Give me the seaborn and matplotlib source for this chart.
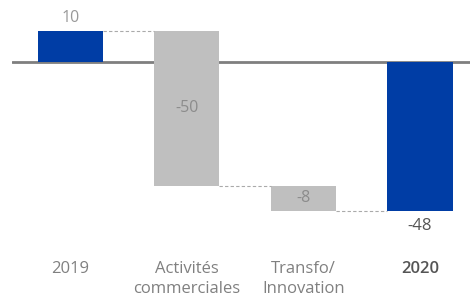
import pandas as pd
import matplotlib
matplotlib.use('Agg')
import matplotlib.pyplot as plt
import seaborn as sns

categories = ['2019', 'Activités\ncommerciales', 'Transfo/\nInnovation', '2020']
changes = [10, -50, -8, -48]
bases = [0, 10, -40, 0]
bar_kind = ['total', 'delta', 'delta', 'total']

blue = '#003da5'
grey = '#bfbfbf'

df = pd.DataFrame({'cat': categories, 'val': changes, 'base': bases, 'kind': bar_kind})

sns.set_style('white')
plt.rcParams['font.family'] = ['Open Sans', 'DejaVu Sans']

fig = plt.figure(figsize=(4.7, 2.98), dpi=100)
ax = fig.add_axes([12/470, 60/298, 1 - 12/470, 238/298])

sns.barplot(x='cat', y='val', data=df, order=categories, bottom=df['base'].values,
            width=0.56, errorbar=None, color=grey, saturation=1, ax=ax)

for patch, kind in zip(ax.patches, df['kind']):
    patch.set_facecolor(blue if kind == 'total' else grey)
    patch.set_edgecolor('none')

# connectors between bars
ends = [b + v for b, v in zip(bases, changes)]
for i in range(len(ax.patches) - 1):
    p1, p2 = ax.patches[i], ax.patches[i + 1]
    ax.hlines(ends[i], p1.get_x() + p1.get_width(), p2.get_x(),
              colors='#aaaaaa', linestyles=(0, (3, 2)), lw=0.8)

ax.axhline(0, color='#7f7f7f', lw=2, zorder=0.5)

# value labels
for i, (b, v, k) in enumerate(zip(bases, changes, bar_kind)):
    if k == 'total' and v > 0:
        ax.annotate(str(v), (i, b + v), xytext=(0, 9.5), textcoords='offset points',
                    ha='center', va='center', fontsize=11.5, color='#999999')
    elif k == 'total':
        ax.annotate(str(v), (i, b + v), xytext=(0, -11), textcoords='offset points',
                    ha='center', va='center', fontsize=12, color='#555555')
    else:
        ax.text(i, b + v / 2, str(v), ha='center', va='center', fontsize=11.5, color='#8c8c8c')

ax.set_xlim(-0.5, 3.43)
ax.set_ylim(-56.8, 20)
ax.set_xlabel('')
ax.set_ylabel('')
ax.set_yticks([])
ax.tick_params(axis='x', length=0, pad=16.5, labelsize=12, labelcolor='#808080')
ax.set_xticks(range(len(categories)))
ax.set_xticklabels(categories, va='top', linespacing=1.3)
last = ax.get_xticklabels()[-1]
last.set_fontweight('semibold')
last.set_color('#555555')
sns.despine(ax=ax, left=True, bottom=True)

fig.savefig('out.png', dpi=100)
